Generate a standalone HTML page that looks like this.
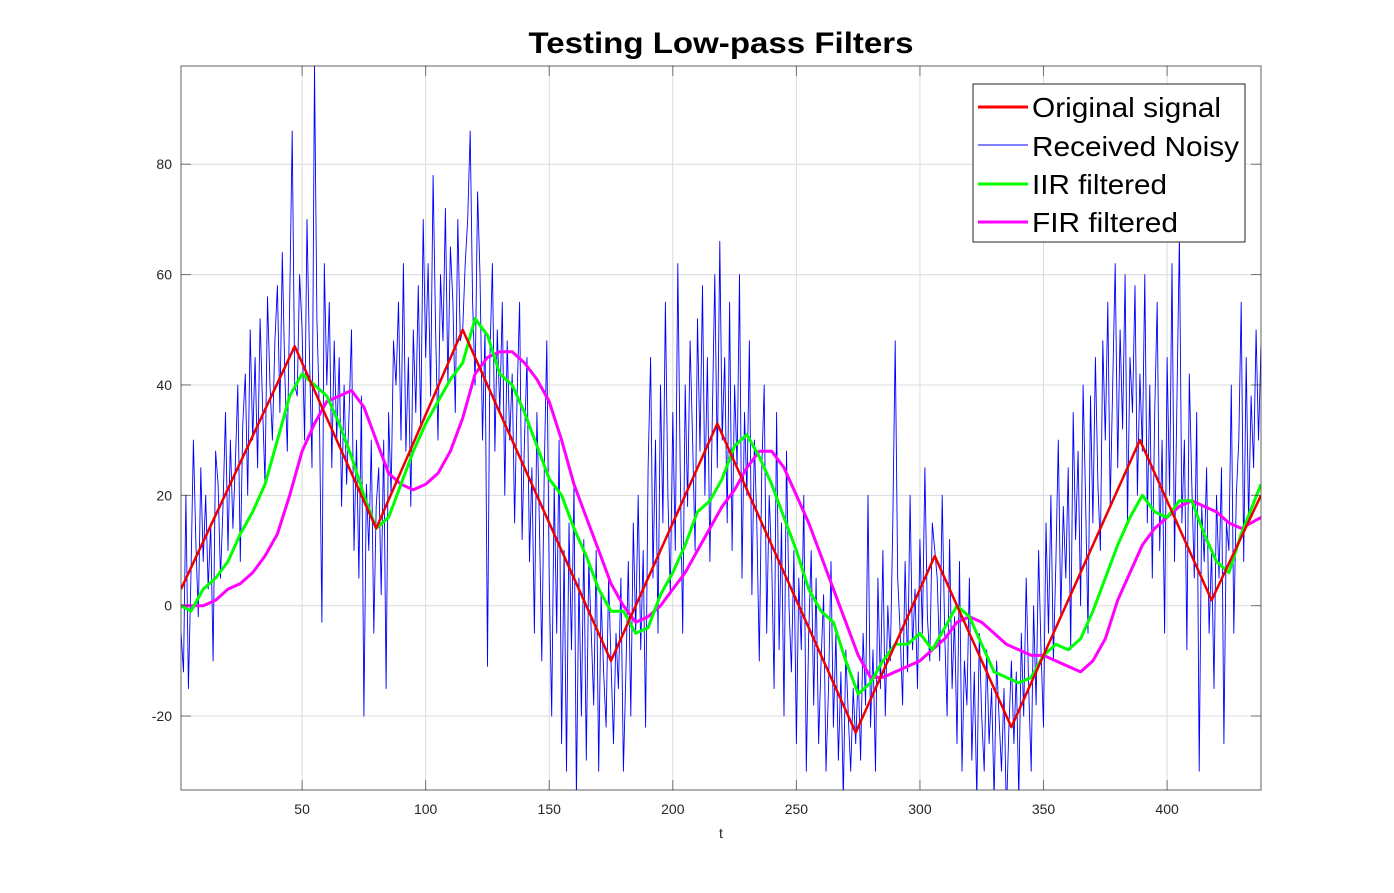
<!DOCTYPE html>
<html><head><meta charset="utf-8"><style>
body{margin:0;background:#fff}
svg text{font-family:"Liberation Sans",Arial,sans-serif}
</style></head><body>
<svg id="chart" width="1394" height="888" xmlns="http://www.w3.org/2000/svg">
<rect width="1394" height="888" fill="#fff"/>
<text x="721" y="53" font-size="30" font-weight="bold" text-anchor="middle" textLength="385" lengthAdjust="spacingAndGlyphs" fill="#000">Testing Low-pass Filters</text>
<defs><clipPath id="pc"><rect x="181" y="66" width="1080" height="724"/></clipPath></defs>
<g id="grid"></g>
<g id="series" clip-path="url(#pc)"></g>
<rect x="181" y="66" width="1080" height="724" fill="none" stroke="#262626" stroke-opacity="0.6" stroke-width="1.2"/>
<g id="ticks"></g>
<text x="721" y="838" font-size="14" text-anchor="middle" fill="#262626">t</text>
<g>
<rect x="973" y="84" width="272" height="158" fill="#fff" stroke="#262626" stroke-width="1"/>
<g><line x1="978" y1="107" x2="1028" y2="107" stroke="#ff0000" stroke-width="3"/><text x="1032" y="117" font-size="28" textLength="189" lengthAdjust="spacingAndGlyphs" fill="#000">Original signal</text></g>
<g><line x1="978" y1="145" x2="1028" y2="145" stroke="#0000ff" stroke-width="1"/><text x="1032" y="156" font-size="28" textLength="207" lengthAdjust="spacingAndGlyphs" fill="#000">Received Noisy</text></g>
<g><line x1="978" y1="184" x2="1028" y2="184" stroke="#00ff00" stroke-width="3"/><text x="1032" y="194" font-size="28" textLength="135" lengthAdjust="spacingAndGlyphs" fill="#000">IIR filtered</text></g>
<g><line x1="978" y1="222" x2="1028" y2="222" stroke="#ff00ff" stroke-width="3"/><text x="1032" y="232" font-size="28" textLength="146" lengthAdjust="spacingAndGlyphs" fill="#000">FIR filtered</text></g>
</g>
</svg>
<script>
const xTicks=[50,100,150,200,250,300,350,400];
const yTicks=[-20,0,20,40,60,80];
const origX=[1,47,80,115,175,218,274,306,337,389,418,438];
const origY=[3,47,14,50,-10,33,-23,9,-22,30,1,20];
const noisyY=[-5,-12,20,-15,5,30,12,-2,25,8,20,3,15,-10,28,22,5,18,35,10,30,14,26,40,8,33,42,20,50,30,45,25,52,36,22,56,40,30,48,58,35,64,42,28,55,86,40,
38,60,50,30,70,45,25,98,52,35,-3,62,40,55,25,48,30,45,18,40,22,35,50,10,30,5,38,-20,22,10,30,-5,18,
25,2,30,-15,35,20,48,40,55,30,62,28,45,18,50,35,58,32,70,45,62,38,78,50,30,60,48,72,40,65,55,35,70,48,50,
62,70,86,55,40,75,60,30,50,-11,45,62,28,50,35,55,20,48,30,42,15,38,55,12,30,45,8,25,-5,35,15,-10,25,48,5,-20,22,-5,30,-25,10,-30,15,-8,22,-35,5,-20,12,-28,8,-5,-18,10,-30,2,-12,-22,5,-10,
-25,-5,-15,5,-30,-12,8,-20,15,-5,20,-8,10,-22,25,45,5,30,-5,40,15,55,20,2,35,10,62,25,-5,40,18,48,30,10,52,28,58,20,45,8,35,60,25,
66,30,45,15,55,10,40,25,60,5,35,20,48,2,30,15,-10,25,40,-5,20,8,-15,35,-8,15,-20,28,0,-12,10,-25,5,-8,20,-30,-5,10,-18,5,-25,-10,2,-30,-15,8,-22,-5,-28,-12,-35,-8,-20,-30,-15,-25,
-12,-28,-5,-18,20,-22,-8,-30,5,-15,10,-20,0,-10,15,48,5,-5,-18,8,-12,20,-8,3,-15,12,-5,25,-2,-10,15,10,
5,-10,20,-5,-20,12,-15,-2,-25,8,-30,-10,-18,5,-28,-12,-35,-5,-20,-30,-8,-25,-15,-35,-10,-20,-30,-15,-38,-22,-10,
-25,-12,-35,-5,-20,5,-15,-30,0,-18,10,-8,-22,15,-5,20,-10,8,30,-2,18,5,25,-8,35,12,28,0,40,20,-5,38,15,45,22,10,48,30,55,18,40,62,25,50,32,60,15,45,35,58,20,42,
28,60,15,40,5,35,55,10,30,-5,45,20,62,8,38,67,15,30,-8,42,22,5,35,-30,18,8,25,-5,10,
-15,20,5,25,-25,15,10,40,-5,20,30,55,8,45,15,38,25,50,30,47];
const filtX=[1,5,10,15,20,25,30,35,40,45,50,55,60,65,70,75,80,85,90,95,100,105,110,115,120,125,130,135,140,145,150,155,160,165,170,175,180,185,190,195,200,205,210,215,220,225,230,235,240,245,250,255,260,265,270,275,280,285,290,295,300,305,310,315,320,325,330,335,340,345,350,355,360,365,370,375,380,385,390,395,400,405,410,415,420,425,430,438];
const iirY=[0,-1,3,5,8,13,17,22,30,38,42,40,38,33,27,20,14,16,22,28,33,37,41,44,52,49,42,40,35,29,23,20,14,9,3,-1,-1,-5,-4,2,6,11,17,19,23,29,31,27,22,16,10,3,-1,-3,-10,-16,-14,-10,-7,-7,-5,-8,-4,0,-2,-7,-12,-13,-14,-13,-9,-7,-8,-6,-1,5,11,16,20,17,16,19,19,13,8,6,13,22];
const firY=[0,0,0,1,3,4,6,9,13,20,28,33,37,38,39,36,30,24,22,21,22,24,28,34,42,45,46,46,44,41,37,30,22,16,10,4,0,-3,-2,0,3,6,10,14,18,21,25,28,28,25,20,15,9,3,-3,-9,-13,-13,-12,-11,-10,-8,-6,-3,-2,-3,-5,-7,-8,-9,-9,-10,-11,-12,-10,-6,1,6,11,14,16,18,19,18,17,15,14,16];

const X0=181,X1=1261,Y0=66,Y1=790,xmin=1,xmax=438,ymin=-33.4,ymax=97.8;
const sx=v=>X0+(v-xmin)/(xmax-xmin)*(X1-X0);
const sy=v=>Y1-(v-ymin)/(ymax-ymin)*(Y1-Y0);
const NS="http://www.w3.org/2000/svg";
const mk=(t,a,p)=>{const e=document.createElementNS(NS,t);for(const k in a)e.setAttribute(k,a[k]);p.appendChild(e);return e;};
const grid=document.getElementById('grid'),ticks=document.getElementById('ticks'),ser=document.getElementById('series');
xTicks.forEach(t=>{
  const x=sx(t);
  const g=mk('line',{x1:x,y1:Y0,x2:x,y2:Y1,stroke:'#dcdcdc','stroke-width':1},grid);
  
  
  mk('line',{x1:x,y1:Y1,x2:x,y2:Y1-10,stroke:'#262626','stroke-opacity':0.6},ticks);
  mk('line',{x1:x,y1:Y0,x2:x,y2:Y0+10,stroke:'#262626','stroke-opacity':0.6},ticks);
  const l=mk('text',{x:x,y:814,'font-size':14,'text-anchor':'middle',fill:'#262626'},ticks);
  l.textContent=t;
  
  
});
yTicks.forEach(t=>{
  const y=sy(t);
  const g=mk('line',{x1:X0,y1:y,x2:X1,y2:y,stroke:'#dcdcdc','stroke-width':1},grid);
  
  
  mk('line',{x1:X0,y1:y,x2:X0+10,y2:y,stroke:'#262626','stroke-opacity':0.6},ticks);
  mk('line',{x1:X1,y1:y,x2:X1-10,y2:y,stroke:'#262626','stroke-opacity':0.6},ticks);
  const l=mk('text',{x:172,y:y+5,'font-size':14,'text-anchor':'end',fill:'#262626'},ticks);
  l.textContent=t;
  
  
});
function line(xs,ys,col,w,name){
  const d=ys.map((v,i)=>(i?'L':'M')+sx(xs[i]).toFixed(1)+','+sy(v).toFixed(1)).join('');
  const p=mk('path',{d:d,fill:'none',stroke:col,'stroke-width':w,'stroke-linejoin':'round'},ser);
  
  
}
line(noisyY.map((v,i)=>i+1),noisyY,'#0000ff',0.9,'noisy-signal-line');
line(filtX,firY,'#ff00ff',3,'fir-filtered-line');
line(filtX,iirY,'#00ff00',3,'iir-filtered-line');
line(origX,origY,'#ee0000',2.5,'original-signal-line');
</script>
</body></html>
